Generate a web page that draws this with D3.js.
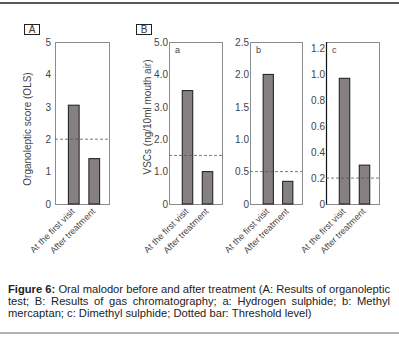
<!DOCTYPE html>
<html><head><meta charset="utf-8">
<script src="https://cdn.jsdelivr.net/npm/d3@7"></script>
<style>
body{margin:0;background:#fff;}
svg{display:block;font-family:"Liberation Sans",Arial,sans-serif;}
</style></head>
<body>
<svg id="c" width="399" height="337"></svg>
<script>
const categories = ["At the first visit", "After treatment"];
const panelNames = ["A", "a", "b", "c"];
const valuesA = [3.05, 1.4];
const valuesH2S = [3.5, 1.0];
const valuesMM = [2.0, 0.35];
const valuesDMS = [0.97, 0.3];
const thresholds = [2, 1.5, 0.5, 0.2];
const yMax = [5, 5, 2.5, 1.25];
const ticksA = [0, 1, 2, 3, 4, 5];
const ticksH2S = [0, 1, 2, 3, 4, 5];
const ticksMM = [0, 0.5, 1, 1.5, 2, 2.5];
const ticksDMS = [0, 0.2, 0.4, 0.6, 0.8, 1.0, 1.2];
const fmt1 = v => v === 0 ? "0" : d3.format(".1f")(v);
const tickFormats = [d3.format("d"), fmt1, fmt1, fmt1];
const allValues = [valuesA, valuesH2S, valuesMM, valuesDMS];
const allTicks = [ticksA, ticksH2S, ticksMM, ticksDMS];

const svg = d3.select("#c");
const plotTop = 42, plotBottom = 204;
const frames = [[55, 109], [169, 222], [250, 302], [326, 379]];
const frameCol = "#8c8c8c";

svg.append("line").attr("x1", 0).attr("x2", 399).attr("y1", 3).attr("y2", 3).attr("stroke", "#222").attr("stroke-width", 1.5);
svg.append("line").attr("x1", 0).attr("x2", 399).attr("y1", 333).attr("y2", 333).attr("stroke", "#999").attr("stroke-width", 1.5);

[["A", 24], ["B", 136]].forEach(([t, x]) => {
  svg.append("rect").attr("x", x + 0.5).attr("y", 24.5).attr("width", 15).attr("height", 10).attr("fill", "none").attr("stroke", "#222").attr("stroke-width", 1);
  svg.append("text").attr("x", x + 8).attr("y", 33).attr("text-anchor", "middle").attr("font-size", 10).attr("fill", "#333").text(t);
});

svg.append("text").attr("transform", "translate(31,129) rotate(-90)").attr("text-anchor", "middle").attr("font-size", 10).attr("fill", "#444").text("Organoleptic score (OLS)");
svg.append("text").attr("transform", "translate(151,117) rotate(-90)").attr("text-anchor", "middle").attr("font-size", 10).attr("fill", "#444").text("VSCs (ng/10ml mouth air)");

frames.forEach(([x0, x1], i) => {
  const g = svg.append("g");
  const y = d3.scaleLinear().domain([0, yMax[i]]).range([plotBottom, plotTop]);
  const x = d3.scaleBand().domain(categories).range([x0 + 8, x1 - 5]).paddingInner(0.475).paddingOuter(0.2375);
  g.append("rect").attr("x", x0 + 0.5).attr("y", plotTop + 0.5).attr("width", x1 - x0).attr("height", plotBottom - plotTop).attr("fill", "none").attr("stroke", frameCol).attr("stroke-width", 1);
  if (i === 3) g.append("line").attr("x1", x0 + 0.5).attr("x2", x0 + 0.5).attr("y1", plotTop).attr("y2", plotBottom + 0.5).attr("stroke", "#111").attr("stroke-width", 1.2);
  const ax = g.append("g").attr("transform", `translate(${x0},0)`)
    .call(d3.axisLeft(y).tickValues(allTicks[i]).tickFormat(tickFormats[i]).tickSize(0).tickPadding(i === 0 ? 4 : 1));
  ax.select(".domain").remove();
  ax.selectAll("text").attr("font-size", 10).attr("fill", "#444").attr("font-family", "Liberation Sans, Arial, sans-serif");
  g.selectAll(".bar").data(allValues[i]).enter().append("rect")
    .attr("x", (d, j) => x(categories[j]) + 0.5).attr("width", x.bandwidth())
    .attr("y", d => y(d)).attr("height", d => plotBottom - y(d))
    .attr("fill", "#868080").attr("stroke", "#1a1a1a").attr("stroke-width", 1);
  g.append("line").attr("x1", x0).attr("x2", x1).attr("y1", y(thresholds[i])).attr("y2", y(thresholds[i]))
    .attr("stroke", "#555").attr("stroke-width", 0.8).attr("stroke-dasharray", "3,2");
  if (i > 0) g.append("text").attr("x", x0 + 6).attr("y", plotTop + 11).attr("font-size", 9).attr("fill", "#444").text(panelNames[i]);
  categories.forEach(c => {
    const cx = x(c) + x.bandwidth() / 2 + 2;
    g.append("text").attr("transform", `translate(${cx},${plotBottom + 8}) rotate(-45)`).attr("text-anchor", "end")
      .attr("font-size", 9).attr("fill", "#444").text(c);
  });
});

const capLines = [
  [{t: "Figure 6:", b: true}, {t: "Oral malodor before and after treatment (A: Results of organoleptic"}],
  [{t: "test; B: Results of gas chromatography; a: Hydrogen sulphide; b: Methyl"}],
  [{t: "mercaptan; c: Dimethyl sulphide; Dotted bar: Threshold level)"}]
];
const capLeft = 8, capRight = 390, capBase = [292.5, 304.5, 316.5];
capLines.forEach((segs, li) => {
  const words = [];
  segs.forEach(s => s.t.split(" ").forEach(w => words.push({w, b: !!s.b})));
  const nodes = words.map(o => svg.append("text").attr("y", capBase[li]).attr("font-size", 11.2)
    .attr("font-weight", o.b ? "bold" : "normal").attr("fill", "#222").text(o.w));
  const widths = nodes.map(n => n.node().getComputedTextLength());
  const total = d3.sum(widths);
  const justify = li < capLines.length - 1;
  const gap = justify ? (capRight - capLeft - total) / (words.length - 1) : 3.1;
  let xx = capLeft;
  nodes.forEach((n, k) => { n.attr("x", xx); xx += widths[k] + gap; });
});
</script>
</body></html>
